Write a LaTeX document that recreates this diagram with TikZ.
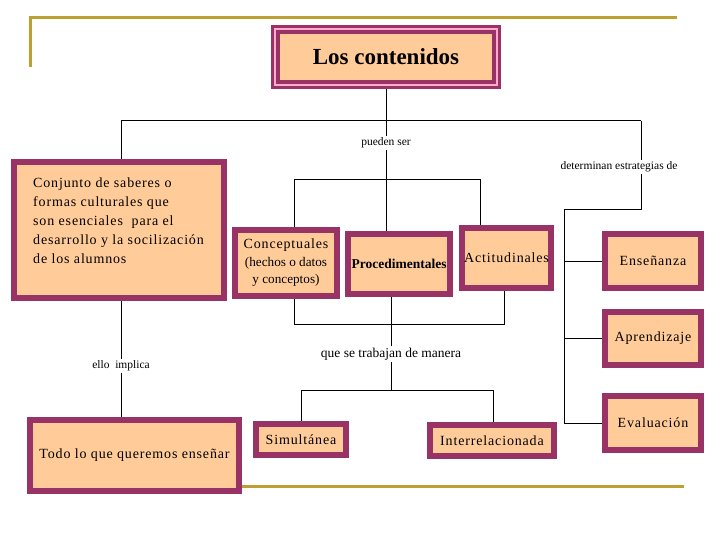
\documentclass[tikz,border=0pt]{standalone}
\usepackage{fontspec}
\setmainfont{Liberation Serif}
\newfontfamily\spc[LetterSpace=6]{Liberation Serif}
\definecolor{purp}{RGB}{153,51,102}
\definecolor{peach}{RGB}{255,204,153}
\definecolor{pinkl}{RGB}{255,170,205}
\definecolor{goldl}{RGB}{190,160,50}
\tikzset{
  box/.style={draw=purp, fill=peach, line width=6pt, inner sep=0pt, outer sep=3pt, align=center,
    font=\spc\fontsize{14}{17}\selectfont},
  titlebox/.style={draw=purp, double=pinkl, double distance=2pt, line width=3.4pt, fill=peach,
    inner sep=0pt, outer sep=4.4pt, font=\bfseries\fontsize{23}{26}\selectfont},
  lbl/.style={inner sep=1.5pt},
  conn/.style={draw=black, line width=1pt},
  goldline/.style={draw=goldl, line width=3pt}
}
\begin{document}
\begin{tikzpicture}[x=1pt, y=-1pt]
\fill[white] (0,0) rectangle (720,540);
\useasboundingbox (0,0) rectangle (720,540);

% gold decorative lines
\draw[goldline] (30,67) -- (30,18) -- (677,18);
\draw[goldline] (240,486) -- (684,486);

% boxes
\node[titlebox, minimum width=221.2pt, minimum height=55.2pt] (title) at (386,57) {Los contenidos};
\node[box, minimum width=210pt, minimum height=136pt] (conj) at (119,230) {};
\node[anchor=north west, inner sep=0pt, align=left, font=\spc\fontsize{14}{19}\selectfont] (conjtxt) at (33,178)
  {Conjunto de saberes o\\formas culturales que\\son esenciales\ \ para el\\desarrollo y la socilización\\de los alumnos};
\node[box, minimum width=102pt, minimum height=66pt, font=\fontsize{13.2}{17.5}\selectfont] (concep) at (286,263)
  {{\spc\fontsize{14}{17}\selectfont Conceptuales}\\(hechos o datos\\y conceptos)};
\node[box, minimum width=102pt, minimum height=60pt, font=\bfseries\fontsize{13.5}{16}\selectfont] (proc) at (399,264) {Procedimentales};
\node[box, minimum width=89pt, minimum height=60pt] (actit) at (506.5,258) {Actitudinales};
\node[box, minimum width=96pt, minimum height=54pt] (ense) at (653,261) {Enseñanza};
\node[box, minimum width=96pt, minimum height=53pt] (apren) at (653,338.5) {Aprendizaje};
\node[box, minimum width=96pt, minimum height=54pt] (eval) at (653,423) {Evaluación};
\node[box, minimum width=209pt, minimum height=71pt] (todo) at (134.5,455.5) {Todo lo que queremos enseñar};
\node[box, minimum width=90pt, minimum height=31pt] (simul) at (301,439.5) {Simultánea};
\node[box, minimum width=124pt, minimum height=31pt] (inter) at (492,440.5) {Interrelacionada};

% labels
\node[lbl, font=\fontsize{11.5}{13}\selectfont] (lp) at (386,143) {pueden ser};
\node[lbl, font=\fontsize{11.5}{13}\selectfont] (ld) at (619,167) {determinan estrategias de};
\node[lbl, font=\fontsize{13.5}{15}\selectfont] (lq) at (391,354) {que se trabajan de manera};
\node[lbl, font=\fontsize{11.5}{13}\selectfont] (le) at (121,366) {ello\ \ implica};

% junction coordinates
\coordinate (jt) at (386,121);
\coordinate (jl) at (121,121);
\coordinate (jr) at (641,121);
\coordinate (ja) at (641,210);
\coordinate (jb) at (564,210);
\coordinate (jc1) at (294,180);
\coordinate (jc2) at (480,180);
\coordinate (jd1) at (294,324);
\coordinate (jd2) at (504,324);
\coordinate (je) at (391,390);
\coordinate (jf1) at (301,390);
\coordinate (jf2) at (493,390);

% connectors
\draw[conn] (title.south) -- (jt);
\draw[conn] (jl) -- (jr);
\draw[conn] (jl) -- (jl |- conj.north);
\draw[conn] (jt) -- (lp.north);
\draw[conn] (lp.south) -- (lp.south |- proc.north);
\draw[conn] (jr) -- (jr |- ld.north);
\draw[conn] (jr |- ld.south) -- (ja) -- (jb) -- (jb |- eval.west) -- (eval.west);
\draw[conn] (jb |- ense.west) -- (ense.west);
\draw[conn] (jb |- apren.west) -- (apren.west);
\draw[conn] (jc1 |- concep.north) -- (jc1) -- (jc2) -- (jc2 |- actit.north);
\draw[conn] (jd1 |- concep.south) -- (jd1) -- (jd2) -- (jd2 |- actit.south);
\draw[conn] (lq |- proc.south) -- (lq.north);
\draw[conn] (lq.south) -- (je);
\draw[conn] (jf1 |- simul.north) -- (jf1) -- (jf2) -- (jf2 |- inter.north);
\draw[conn] (le |- conj.south) -- (le.north);
\draw[conn] (le.south) -- (le.south |- todo.north);
\end{tikzpicture}
\end{document}
